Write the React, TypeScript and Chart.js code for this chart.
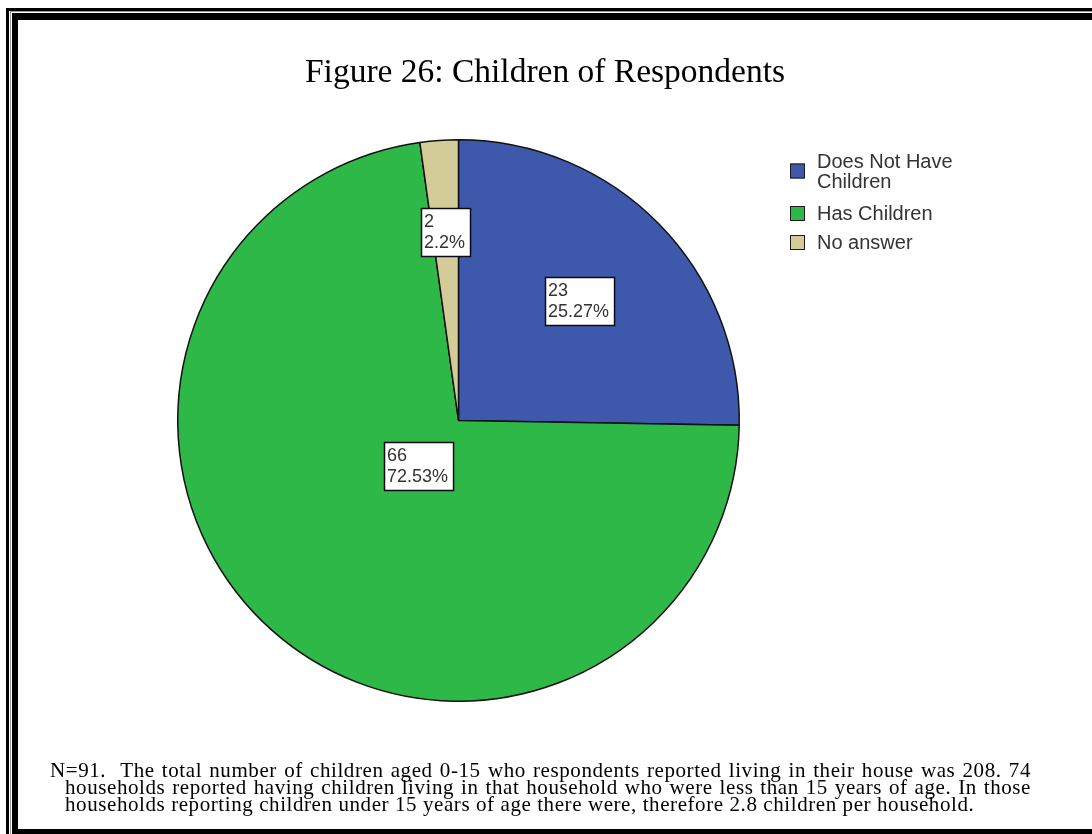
import React, { useEffect, useRef } from "react";
import { Chart, registerables } from "chart.js";

Chart.register(...registerables);

// ---- data ----
const categories = ["Does Not Have Children", "Has Children", "No answer"];
const legendLines = [["Does Not Have", "Children"], ["Has Children"], ["No answer"]];
const counts = [23, 66, 2];
const sliceColors = ["#3E58AC", "#2EB848", "#D4CC98"];
const titleText = "Figure 26: Children of Respondents";
const captionLines = [
  "N=91.  The total number of children aged 0-15 who respondents reported living in their house was 208. 74",
  "households reported having children living in that household who were less than 15 years of age. In those",
  "households reporting children under 15 years of age there were, therefore 2.8 children per household.",
];

// ---- layout / style constants ----
const LABEL_RADIUS = [0.605, 0.215, 0.674];
const LEGEND_CENTERS = [171, 213.5, 242.5];
const LABEL_FONT = '18px "Liberation Sans", Arial, sans-serif';
const LEGEND_FONT = '20px "Liberation Sans", Arial, sans-serif';
const TEXT_COLOR = "#333333";

function fmtPct(v: number, total: number): string {
  let s = ((v / total) * 100).toFixed(2);
  s = s.replace(/0+$/, "").replace(/\.$/, "");
  return s + "%";
}

const sliceLabelPlugin = {
  id: "sliceLabels",
  afterDatasetsDraw(chart: any) {
    const ctx = chart.ctx as CanvasRenderingContext2D;
    const meta = chart.getDatasetMeta(0);
    const data = chart.data.datasets[0].data as number[];
    const total = data.reduce((a, b) => a + b, 0);
    ctx.save();
    ctx.font = LABEL_FONT;
    meta.data.forEach((arc: any, i: number) => {
      const p = arc.getProps(["x", "y", "startAngle", "endAngle", "outerRadius"], true);
      const mid = (p.startAngle + p.endAngle) / 2;
      const r = p.outerRadius * LABEL_RADIUS[i];
      const cx = p.x + Math.cos(mid) * r;
      const cy = p.y + Math.sin(mid) * r;
      const lines = [String(data[i]), fmtPct(data[i], total)];
      const w = Math.max(...lines.map((l) => ctx.measureText(l).width)) + 8;
      const h = 48;
      const left = Math.round(cx - w / 2);
      const top = Math.round(cy - h / 2);
      ctx.fillStyle = "#ffffff";
      ctx.fillRect(left, top, w, h);
      ctx.strokeStyle = "#0a0a14";
      ctx.lineWidth = 1.5;
      ctx.strokeRect(left + 0.5, top + 0.5, w, h);
      ctx.fillStyle = TEXT_COLOR;
      ctx.textAlign = "left";
      ctx.textBaseline = "alphabetic";
      ctx.fillText(lines[0], left + 3, top + 19);
      ctx.fillText(lines[1], left + 3, top + 40);
    });
    ctx.restore();
  },
};

const legendPlugin = {
  id: "customLegend",
  afterDraw(chart: any) {
    const ctx = chart.ctx as CanvasRenderingContext2D;
    const colors = chart.data.datasets[0].backgroundColor as string[];
    ctx.save();
    ctx.font = LEGEND_FONT;
    ctx.textAlign = "left";
    ctx.textBaseline = "middle";
    legendLines.forEach((lines, i) => {
      const c = LEGEND_CENTERS[i];
      ctx.fillStyle = colors[i];
      ctx.fillRect(790, c - 7.5, 15, 15);
      ctx.strokeStyle = "#1a1a1a";
      ctx.lineWidth = 1;
      ctx.strokeRect(790.5, c - 7, 14, 14);
      ctx.fillStyle = TEXT_COLOR;
      const n = lines.length;
      lines.forEach((t, j) => {
        ctx.fillText(t, 817, c - (n - 1) * 10 + j * 20 + 1);
      });
    });
    ctx.restore();
  },
};

export default function App() {
  const canvasRef = useRef<HTMLCanvasElement | null>(null);

  useEffect(() => {
    if (!canvasRef.current) return;
    const chart = new Chart(canvasRef.current, {
      type: "pie",
      data: {
        labels: categories,
        datasets: [
          {
            data: counts,
            backgroundColor: sliceColors,
            borderColor: "#111111",
            borderWidth: 1.5,
          },
        ],
      },
      options: {
        animation: false,
        responsive: false,
        maintainAspectRatio: false,
        layout: { padding: { left: 177, right: 352, top: 139, bottom: 132 } },
        plugins: {
          legend: { display: false },
          tooltip: { enabled: false },
          title: { display: false },
        },
      },
      plugins: [sliceLabelPlugin, legendPlugin],
    });
    return () => chart.destroy();
  }, []);

  return (
    <div style={{ position: "absolute", left: 0, top: 0, width: 1092, height: 834, overflow: "hidden", background: "#fff" }}>
      {/* frame */}
      <div style={{ position: "absolute", left: 6, top: 8, width: 1200, height: 3, background: "#000" }} />
      <div style={{ position: "absolute", left: 6, top: 8, width: 3, height: 900, background: "#000" }} />
      <div style={{ position: "absolute", left: 10, top: 11, width: 1200, height: 1, background: "#9a9a9a" }} />
      <div style={{ position: "absolute", left: 10, top: 11, width: 1, height: 900, background: "#9a9a9a" }} />
      <div style={{ position: "absolute", left: 12, top: 13, width: 1200, height: 7, background: "#000" }} />
      <div style={{ position: "absolute", left: 12, top: 13, width: 6, height: 900, background: "#000" }} />
      <div style={{ position: "absolute", left: 12, top: 829, width: 1200, height: 10, background: "#000" }} />
      <canvas ref={canvasRef} width={1092} height={834} style={{ position: "absolute", left: 0, top: 0, width: 1092, height: 834 }} />
      <div
        style={{
          position: "absolute",
          left: 0,
          top: 54,
          width: 1090,
          textAlign: "center",
          fontFamily: '"Liberation Serif", "Times New Roman", serif',
          fontSize: 33.5,
          lineHeight: "34px",
          color: "#000",
        }}
      >
        {titleText}
      </div>
      <div
        style={{
          position: "absolute",
          left: 50,
          top: 762,
          width: 981,
          fontFamily: '"Liberation Serif", "Times New Roman", serif',
          fontSize: 21,
          letterSpacing: "0.58px",
          lineHeight: "17px",
          color: "#000",
        }}
      >
        {captionLines.map((l, i) => (
          <div
            key={i}
            style={{
              marginLeft: i === 0 ? 0 : 15,
              textAlign: "justify",
              textAlignLast: i < captionLines.length - 1 ? "justify" : "left",
              whiteSpace: "pre-wrap",
            }}
          >
            {l}
          </div>
        ))}
      </div>
    </div>
  );
}
